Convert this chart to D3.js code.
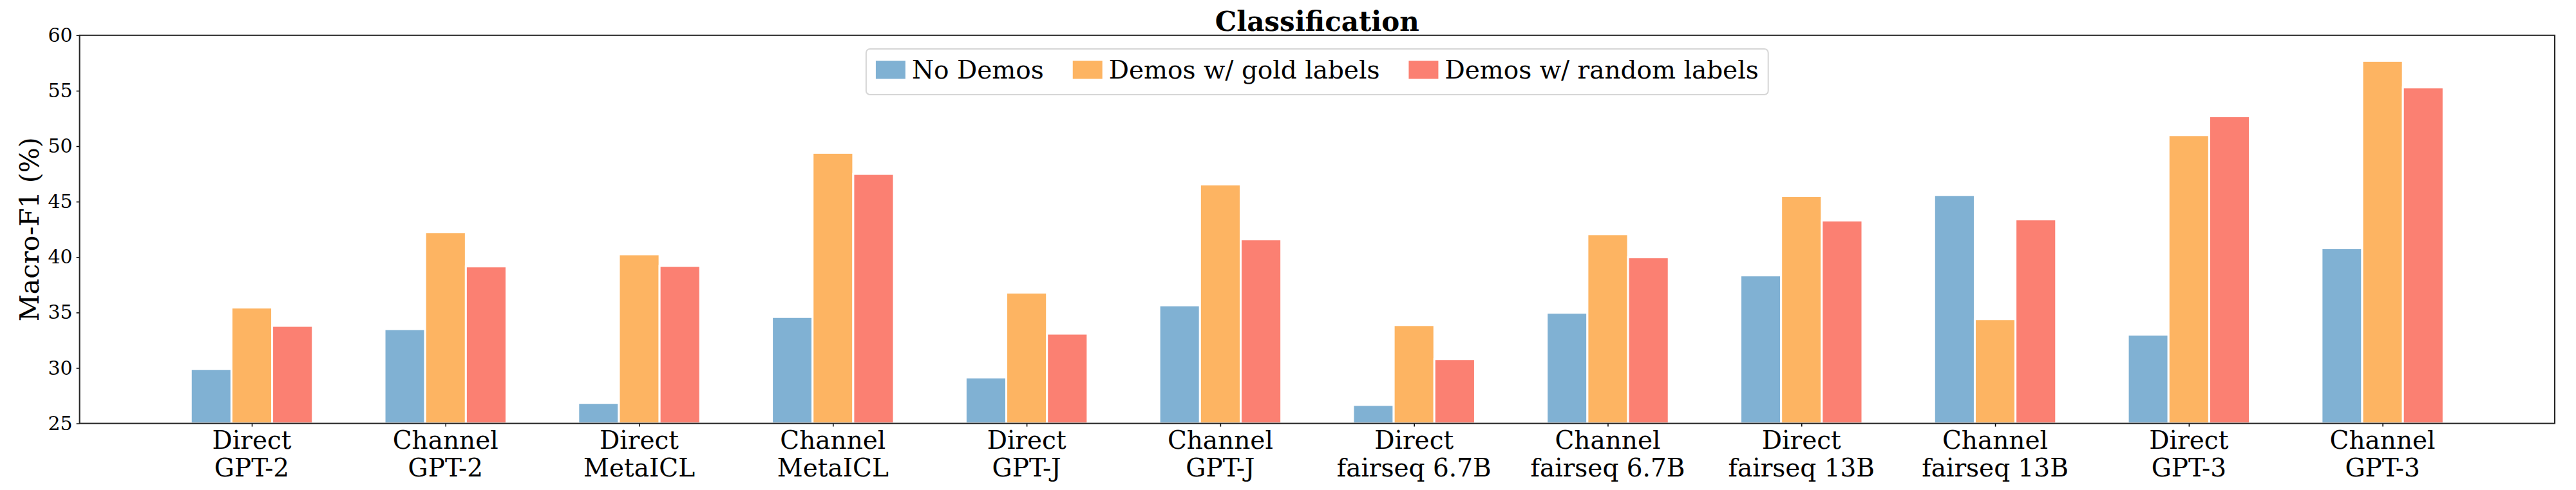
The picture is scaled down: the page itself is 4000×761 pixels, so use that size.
<!DOCTYPE html>
<html>
<head>
<meta charset="utf-8">
<script src="https://cdn.jsdelivr.net/npm/d3@7"></script>
<style>
  body { margin: 0; background: #fff; }
  svg { display: block; font-family: "DejaVu Serif", serif; }
</style>
</head>
<body>
<div id="chart"></div>
<script>
// Data
const methods = ['Direct', 'Channel', 'Direct', 'Channel', 'Direct', 'Channel',
  'Direct', 'Channel', 'Direct', 'Channel', 'Direct', 'Channel'];
const models = ['GPT-2', 'GPT-2', 'MetaICL', 'MetaICL', 'GPT-J', 'GPT-J',
  'fairseq 6.7B', 'fairseq 6.7B', 'fairseq 13B', 'fairseq 13B', 'GPT-3', 'GPT-3'];
const seriesNames = ['No Demos', 'Demos w/ gold labels', 'Demos w/ random labels'];
const noDemos = [29.9, 33.5, 26.85, 34.6, 29.15, 35.65, 26.67, 34.98, 38.35, 45.6, 33.0, 40.8];
const goldDemos = [35.45, 42.24, 40.25, 49.4, 36.8, 46.55, 33.87, 42.06, 45.5, 34.4, 51.0, 57.7];
const randomDemos = [33.8, 39.16, 39.2, 47.5, 33.1, 41.6, 30.8, 39.98, 43.3, 43.4, 52.7, 55.3];
const yTicks = [25, 30, 35, 40, 45, 50, 55, 60];

const colors = ['#80b1d3', '#fdb462', '#fb8072'];
const series = [noDemos, goldDemos, randomDemos];

const width = 4000;
const height = 761;
const plot = { left: 123.6, right: 3967, top: 54.8, bottom: 657.6 };
const barW = 0.21;

const svg = d3.select('#chart')
  .append('svg')
  .attr('width', width)
  .attr('height', height);

const x = d3.scaleLinear()
  .domain([-0.889, 11.889])
  .range([plot.left, plot.right]);

const y = d3.scaleLinear()
  .domain([25, 60])
  .range([plot.bottom, plot.top]);

// Bars
series.forEach((vals, s) => {
  svg.append('g')
    .selectAll('rect')
    .data(vals)
    .join('rect')
    .attr('x', (d, i) => x(i + (s - 1) * barW - barW / 2))
    .attr('width', x(barW) - x(0))
    .attr('y', (d) => y(d))
    .attr('height', (d) => y(25) - y(d))
    .attr('fill', colors[s])
    .attr('stroke', '#fff')
    .attr('stroke-width', 3);
});

// Axes
const yAxis = svg.append('g')
  .attr('transform', `translate(${plot.left},0)`)
  .call(d3.axisLeft(y).tickValues(yTicks).tickSize(5).tickPadding(6).tickFormat(d3.format('d')));
yAxis.select('.domain').remove();
yAxis.selectAll('line').attr('stroke', '#000').attr('stroke-width', 1.5);
yAxis.selectAll('text')
  .attr('font-family', 'DejaVu Serif')
  .attr('font-size', 30)
  .attr('fill', '#000');

const xAxis = svg.append('g')
  .attr('transform', `translate(0,${plot.bottom})`)
  .call(d3.axisBottom(x).tickValues(d3.range(12)).tickSize(5).tickFormat(''));
xAxis.select('.domain').remove();
xAxis.selectAll('line').attr('stroke', '#000').attr('stroke-width', 1.5);

const labels = svg.append('g')
  .selectAll('text')
  .data(d3.range(12))
  .join('text')
  .attr('text-anchor', 'middle')
  .attr('font-size', 39)
  .attr('fill', '#000');
labels.append('tspan')
  .attr('x', (i) => x(i))
  .attr('y', 696.6)
  .text((i) => methods[i]);
labels.append('tspan')
  .attr('x', (i) => x(i))
  .attr('y', 740)
  .text((i) => models[i]);

// Frame
svg.append('rect')
  .attr('x', plot.left)
  .attr('y', plot.top)
  .attr('width', plot.right - plot.left)
  .attr('height', plot.bottom - plot.top)
  .attr('fill', 'none')
  .attr('stroke', '#222')
  .attr('stroke-width', 2);

// Y label
svg.append('text')
  .attr('transform', `translate(60,${(plot.top + plot.bottom) / 2}) rotate(-90)`)
  .attr('text-anchor', 'middle')
  .attr('font-size', 41)
  .text('Macro-F1 (%)');

// Title
svg.append('text')
  .attr('x', (plot.left + plot.right) / 2)
  .attr('y', 47.6)
  .attr('text-anchor', 'middle')
  .attr('font-size', 42)
  .attr('font-weight', 'bold')
  .text('Classification');

// Legend
const legend = svg.append('g');
const box = legend.append('rect')
  .attr('fill', '#fff')
  .attr('stroke', '#d6d6d6')
  .attr('stroke-width', 2)
  .attr('rx', 6);

let cx = 0;
seriesNames.forEach((name, s) => {
  legend.append('rect')
    .attr('x', cx)
    .attr('y', 94.5)
    .attr('width', 46)
    .attr('height', 28)
    .attr('fill', colors[s]);
  const t = legend.append('text')
    .attr('x', cx + 56)
    .attr('y', 121.5)
    .attr('font-size', 39)
    .text(name);
  cx += 56 + t.node().getComputedTextLength() + 45;
});
const legendW = cx - 45;
box.attr('x', -15).attr('y', 76).attr('width', legendW + 30).attr('height', 71);
legend.attr('transform', `translate(${(plot.left + plot.right) / 2 - legendW / 2},0)`);
</script>
</body>
</html>
